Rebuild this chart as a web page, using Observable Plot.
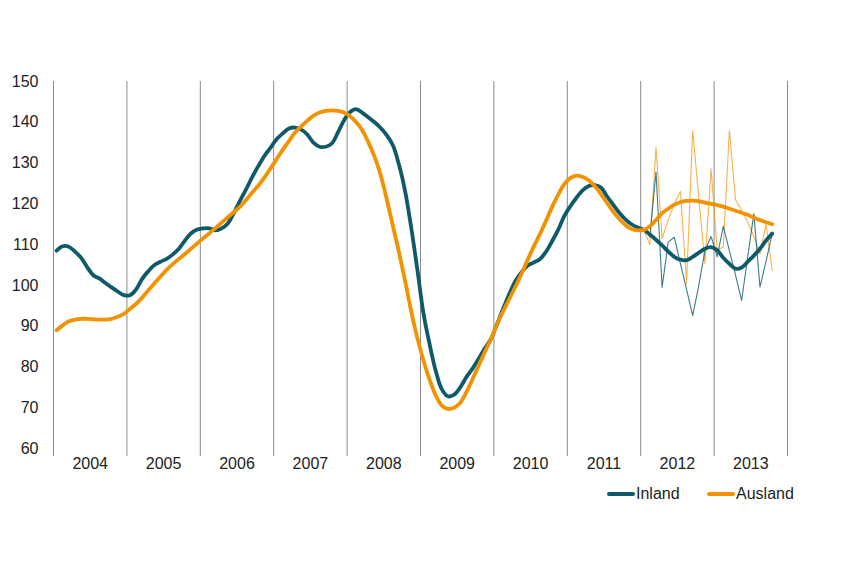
<!DOCTYPE html>
<html>
<head>
<meta charset="utf-8">
<script src="https://cdn.jsdelivr.net/npm/d3@7"></script>
<script src="https://cdn.jsdelivr.net/npm/@observablehq/plot@0.6"></script>
<style>
  html, body { margin: 0; padding: 0; background: #fff; }
  #wrap { width: 860px; height: 580px; position: relative; font-family: "Liberation Sans", Arial, sans-serif; }
  #legend { position: relative; height: 60px; font-size: 16px; color: #222; }
  .sw { position: absolute; height: 4px; width: 28px; border-radius: 2px; top: 12px; }
  .lb { position: absolute; top: 5px; line-height: 18px; }
</style>
</head>
<body>
<div id="wrap"></div>
<script>
// Year labels and grid boundaries
const years = [2004, 2005, 2006, 2007, 2008, 2009, 2010, 2011, 2012, 2013];
const yTicks = [60, 70, 80, 90, 100, 110, 120, 130, 140, 150];

// Smoothed monthly series, Jan 2004 – Oct 2013
const inland = [
  108.5, 109.6, 109.5, 108.3, 106.8, 104.5, 102.5, 101.7, 100.6, 99.5, 98.5, 97.6,
  97.6, 99, 101.6, 103.5, 105, 105.8, 106.5, 107.6, 109, 111, 112.8, 113.7,
  114, 114, 113.5, 114, 115.2, 117.8, 120.8, 123.6, 126.6, 129.3, 131.8, 133.8,
  135.9, 137.3, 138.5, 138.7, 138.2, 137, 135, 134, 134, 134.8, 137.5, 140.5,
  142.5, 143.2, 142.3, 141.2, 140, 138.6, 136.8, 134.3, 129.5, 123, 114, 103.7,
  93, 85.5, 79, 74.5, 72.8, 73.2, 75, 77.5, 79.6, 82, 84.5, 86.8,
  90.4, 94.2, 97.8, 101, 103.2, 104.8, 105.6, 106.4, 108.2, 110.8, 113.6, 117,
  119.4, 121.5, 123.3, 124.4, 124.6, 124, 121.8, 119.8, 117.8, 116.2, 115, 114.2,
  113.6, 112.5, 111.2, 109.8, 108.3, 107, 106.3, 106.2, 107, 108, 109, 109.4,
  108.6, 106.8, 105.3, 104.1, 104.4, 105.8, 107.3, 109, 111, 112.7
];
const ausland = [
  89, 90.2, 91.2, 91.6, 91.8, 91.8, 91.7, 91.6, 91.6, 91.8, 92.3, 93,
  94.2, 95.5, 97, 98.8, 100.5, 102.2, 103.8, 105.2, 106.5, 107.7, 109, 110.3,
  111.6, 112.8, 114.1, 115.4, 116.7, 118, 119.3, 121, 122.8, 124.5, 126.5, 128.7,
  131, 133.3, 135.4, 137.5, 139, 140.4, 141.6, 142.4, 142.8, 142.9, 142.8, 142.4,
  141.5, 140, 138, 135, 131.5, 127, 121, 114.5, 108, 101, 93.5, 87,
  81.5, 76.8, 73, 70.5, 69.7, 70, 71.2, 73.8, 77, 80.3, 83.6, 86.8,
  90.4, 93.6, 96.6, 99.6, 102.8, 106.2, 109.5, 112.5, 115.8, 119.2, 122.2, 124.8,
  126.3, 126.9, 126.6, 125.8, 124.3, 122.4, 120.2, 118.1, 116.3, 114.8, 113.8, 113.5,
  113.6, 114.5, 116, 117.7, 118.8, 119.8, 120.4, 120.7, 120.8, 120.6, 120.3, 120,
  119.7, 119.3, 118.8, 118.3, 117.8, 117.3, 116.6, 116, 115.5, 115
];

// Raw monthly values, Jan 2012 – Oct 2013
const inlandRaw = [
  113.5, 112, 127.8, 99.5, 110.6, 111.8, 105.3, 99, 92.6, 100, 108.5, 112,
  107, 114.5, 108.5, 102.5, 96.3, 107, 117.6, 99.6, 106, 112.7
];
const auslandRaw = [
  113.5, 110, 133.9, 111.5, 116, 120, 123, 100.5, 138, 121.5, 105.4, 128.6,
  108.6, 109.4, 138, 121, 118.5, 115.5, 112, 107.8, 115, 103.7
];

const cInland = "#0e5a6b";
const cAusland = "#f39200";

const toRows = (arr, startYear) => arr.map((v, i) => ({x: startYear + (i + 0.5) / 12, y: v}));
const inlandRows = toRows(inland, 2004);
const auslandRows = toRows(ausland, 2004);
const inlandRawRows = toRows(inlandRaw, 2012);
const auslandRawRows = toRows(auslandRaw, 2012);
const bounds = years.concat([years[years.length - 1] + 1]);

const chart = Plot.plot({
  width: 860,
  height: 480,
  marginLeft: 53,
  marginRight: 73,
  marginTop: 81,
  marginBottom: 32,
  style: {fontFamily: "'Liberation Sans', Arial, sans-serif", fontSize: "16px", color: "#222", background: "#fff"},
  x: {domain: [2004, 2014], axis: null},
  y: {domain: [60, 150], axis: null},
  marks: [
    Plot.ruleX(bounds, {x: d => d, y1: 150, y2: 58, stroke: "#8a8a8a", strokeWidth: 1}),
    Plot.line(auslandRawRows, {x: "x", y: "y", stroke: cAusland, strokeWidth: 1.1, strokeOpacity: 0.7}),
    Plot.line(inlandRawRows, {x: "x", y: "y", stroke: cInland, strokeWidth: 1.1, strokeOpacity: 0.8}),
    Plot.line(inlandRows, {x: "x", y: "y", stroke: cInland, strokeWidth: 3.8, curve: "catmull-rom", strokeLinecap: "round"}),
    Plot.line(auslandRows, {x: "x", y: "y", stroke: cAusland, strokeWidth: 3.8, curve: "catmull-rom", strokeLinecap: "round"}),
    Plot.axisY(yTicks, {tickSize: 0, tickPadding: 15, label: null, fill: "#222"}),
    Plot.axisX(years.map(y => y + 0.5), {tickSize: 0, tickPadding: 9, label: null, fill: "#222", tickFormat: d => String(Math.floor(d))})
  ]
});

const wrap = document.getElementById("wrap");
wrap.appendChild(chart);

const legend = document.createElement("div");
legend.id = "legend";
legend.innerHTML =
  `<div class="sw" style="left:607px;background:${cInland}"></div><div class="lb" style="left:636px">Inland</div>` +
  `<div class="sw" style="left:707px;background:${cAusland}"></div><div class="lb" style="left:736px">Ausland</div>`;
wrap.appendChild(legend);
</script>
</body>
</html>
